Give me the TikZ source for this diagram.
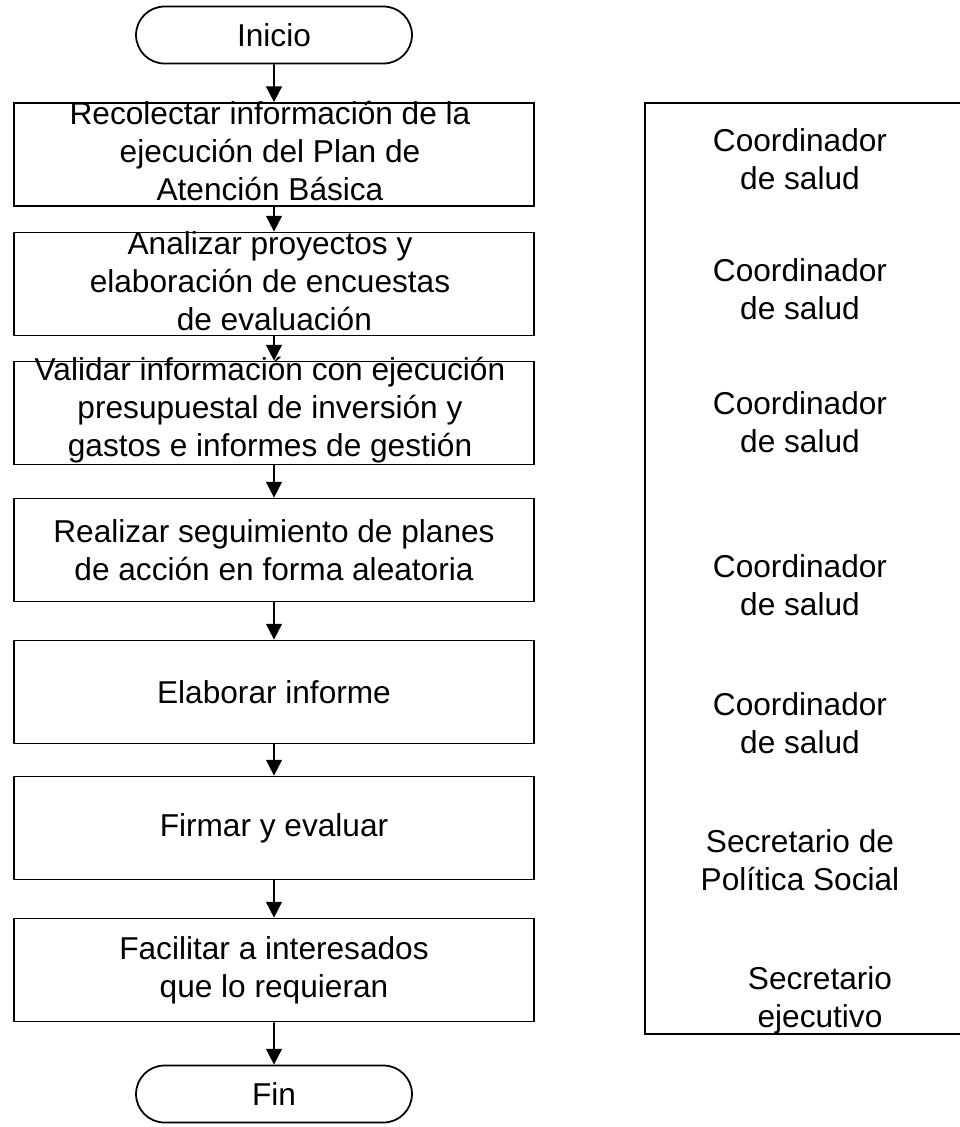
\documentclass[tikz,border=0pt]{standalone}
\usepackage{fontspec}
\setmainfont{Liberation Sans}
\usetikzlibrary{arrows.meta,shapes.misc}

\tikzset{
  caja/.style={draw,line width=1pt,minimum width=10.4cm,minimum height=2.06cm,inner sep=0pt},
  terminal/.style={draw,line width=1pt,rounded rectangle,minimum width=5.52cm,minimum height=1.14cm,inner sep=0pt},
  texto/.style={align=center,font=\fontsize{18}{21.6}\selectfont},
  flecha/.style={-{Triangle[length=9pt,width=9pt]},line width=1pt},
}

\begin{document}
\begin{tikzpicture}[x=0.02cm,y=-0.02cm]
  \useasboundingbox (0,0) rectangle (960,1127);
  % columna de actividades
  \node[terminal,texto] (inicio) at (274,35) {Inicio};
  \node[caja] (recolectar) at (274,154.5) {};
  \node[caja] (analizar) at (274,284) {};
  \node[caja] (validar) at (274,413) {};
  \node[caja] (seguimiento) at (274,550) {};
  \node[caja] (informe) at (274,692) {};
  \node[caja] (firmar) at (274,828) {};
  \node[caja] (facilitar) at (274,970) {};
  \node[terminal,texto] (fin) at (274,1094) {Fin};

  \node[texto] at (270,151) {Recolectar información de la\\ejecución del Plan de\\Atención Básica};
  \node[texto] at (270,281) {Analizar proyectos y\\elaboración de encuestas\\\ de evaluación};
  \node[texto] at (270,410) {Validar información con ejecución\\presupuestal de inversión y\\gastos e informes de gestión};
  \node[texto] at (274,550) {Realizar seguimiento de planes\\de acción en forma aleatoria};
  \node[texto] at (274,692) {Elaborar informe};
  \node[texto] at (274,828) {Firmar y evaluar};
  \node[texto] at (274,970) {Facilitar a interesados\\ que lo requieran};

  \foreach \a/\b in {inicio/recolectar,recolectar/analizar,analizar/validar,validar/seguimiento,
    seguimiento/informe,informe/firmar,firmar/facilitar,facilitar/fin}
    \draw[flecha] (\a) -- (\b);

  % columna de responsables
  \draw[line width=1pt] (962,103) -- (645,103) -- (645,1034) -- (962,1034);
  \node[texto] (resp1) at (800,159) {Coordinador\\de salud};
  \node[texto] (resp2) at (800,289) {Coordinador\\de salud};
  \node[texto] (resp3) at (800,422) {Coordinador\\de salud};
  \node[texto] (resp4) at (800,585) {Coordinador\\de salud};
  \node[texto] (resp5) at (800,723) {Coordinador\\de salud};
  \node[texto] (resp6) at (800,860) {Secretario de\\Política Social};
  \node[texto] (resp7) at (820,1000) {Secretario\\ejecutivo};
\end{tikzpicture}
\end{document}
